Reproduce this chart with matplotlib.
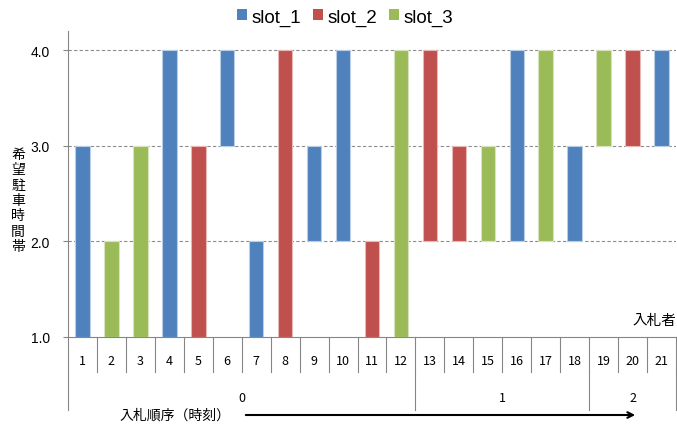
import matplotlib
matplotlib.use("Agg")
import matplotlib.pyplot as plt
import matplotlib.transforms as mtransforms
from matplotlib.patches import Patch

plt.rcParams['font.family'] = ['Liberation Sans', 'Noto Sans CJK JP', 'DejaVu Sans']

bidders = list(range(1, 22))
slots = ['slot_1', 'slot_3', 'slot_3', 'slot_1', 'slot_2', 'slot_1', 'slot_1',
         'slot_2', 'slot_1', 'slot_1', 'slot_2', 'slot_3', 'slot_2', 'slot_2',
         'slot_3', 'slot_1', 'slot_3', 'slot_1', 'slot_3', 'slot_2', 'slot_1']
start = [1, 1, 1, 1, 1, 3, 1, 1, 2, 2, 1, 1, 2, 2, 2, 2, 2, 2, 3, 3, 3]
end = [3, 2, 3, 4, 3, 4, 2, 4, 3, 4, 2, 4, 4, 3, 3, 4, 4, 3, 4, 4, 4]
groups = ['0', '1', '2']
group_sizes = [12, 6, 3]
yticks = [1.0, 2.0, 3.0, 4.0]

colors = {'slot_1': '#4F81BD', 'slot_2': '#C0504D', 'slot_3': '#9BBB59'}
edges = {'slot_1': '#B9CDE5', 'slot_2': '#E6B9B8', 'slot_3': '#D7E4BD'}

W, H = 677, 427
top, bot = 32, 338
fig = plt.figure(figsize=(W / 100, H / 100), dpi=100)
ax = fig.add_axes([68 / W, (H - bot) / H, (676 - 68) / W, (bot - top) / H])

heights = [e - s for s, e in zip(start, end)]
ax.bar(bidders, heights, bottom=start, width=0.5,
       color=[colors[s] for s in slots],
       edgecolor=[edges[s] for s in slots], linewidth=0.8, zorder=3)

ax.set_xlim(0.5, 21.5)
ax.set_ylim(1.0, 4.2)
ax.set_yticks(yticks)
ax.set_yticklabels([f'{v:.1f}' for v in yticks], fontsize=10)
ax.tick_params(axis='y', length=3.5, color='#868686', pad=9.5)
ax.set_xticks([])
for v in yticks[1:]:
    ax.axhline(v, color='#8c8c8c', linestyle=(0, (3, 2)), linewidth=0.8, zorder=1)

for side in ['top', 'right']:
    ax.spines[side].set_visible(False)
ax.spines['left'].set_color('#868686')
ax.spines['bottom'].set_color('#868686')


def ay(py):
    # pixel row -> axes fraction
    return (bot - py) / (bot - top)


# category table under the axis
trans = mtransforms.blended_transform_factory(ax.transData, ax.transAxes)
row1 = ay(373)
row2 = ay(411)
for b in bidders:
    ax.text(b, ay(362), str(b), transform=trans, ha='center', va='center',
            fontsize=9, family=['Noto Sans CJK JP'])
    ax.plot([b + 0.5, b + 0.5], [0, row1], transform=trans, color='#868686',
            linewidth=0.8, clip_on=False)
ax.plot([0.5, 0.5], [0, row2], transform=trans, color='#868686',
        linewidth=0.8, clip_on=False)

pos = 0.5
for g, n in zip(groups, group_sizes):
    ax.text(pos + n / 2, ay(399), g, transform=trans,
            ha='center', va='center', fontsize=9, family=['Noto Sans CJK JP'])
    pos += n
    ax.plot([pos, pos], [row1, row2], transform=trans, color='#868686',
            linewidth=0.8, clip_on=False)

ax.text(1.0, ay(321), '入札者', transform=ax.transAxes,
        ha='right', va='center', fontsize=10.5, family=['Noto Sans CJK JP'])

# y label, stacked characters
fig.text(18 / W, 1 - 201 / H, '\n'.join('希望駐車時間帯'), ha='center',
         va='center', fontsize=10, linespacing=1.12, family=['Noto Sans CJK JP'])

# bidding order arrow
fig.text(231 / W, 1 - 416 / H, '入札順序（時刻）', ha='right', va='center',
         fontsize=10, style='italic', family=['Noto Sans CJK JP'])
ax.annotate('', xy=(638 / W, 1 - 416 / H), xytext=(243 / W, 1 - 416 / H),
            xycoords='figure fraction', textcoords='figure fraction',
            arrowprops=dict(arrowstyle='->', color='black', lw=1.5))

handles = [Patch(facecolor=colors[s], label=s) for s in ['slot_1', 'slot_2', 'slot_3']]
fig.legend(handles=handles, loc='center', bbox_to_anchor=(345 / W, 1 - 18 / H),
           ncol=3, frameon=False, fontsize=13.5, handlelength=0.55,
           handleheight=0.55, handletextpad=0.25, columnspacing=0.6)

fig.savefig('out.png', dpi=100)
